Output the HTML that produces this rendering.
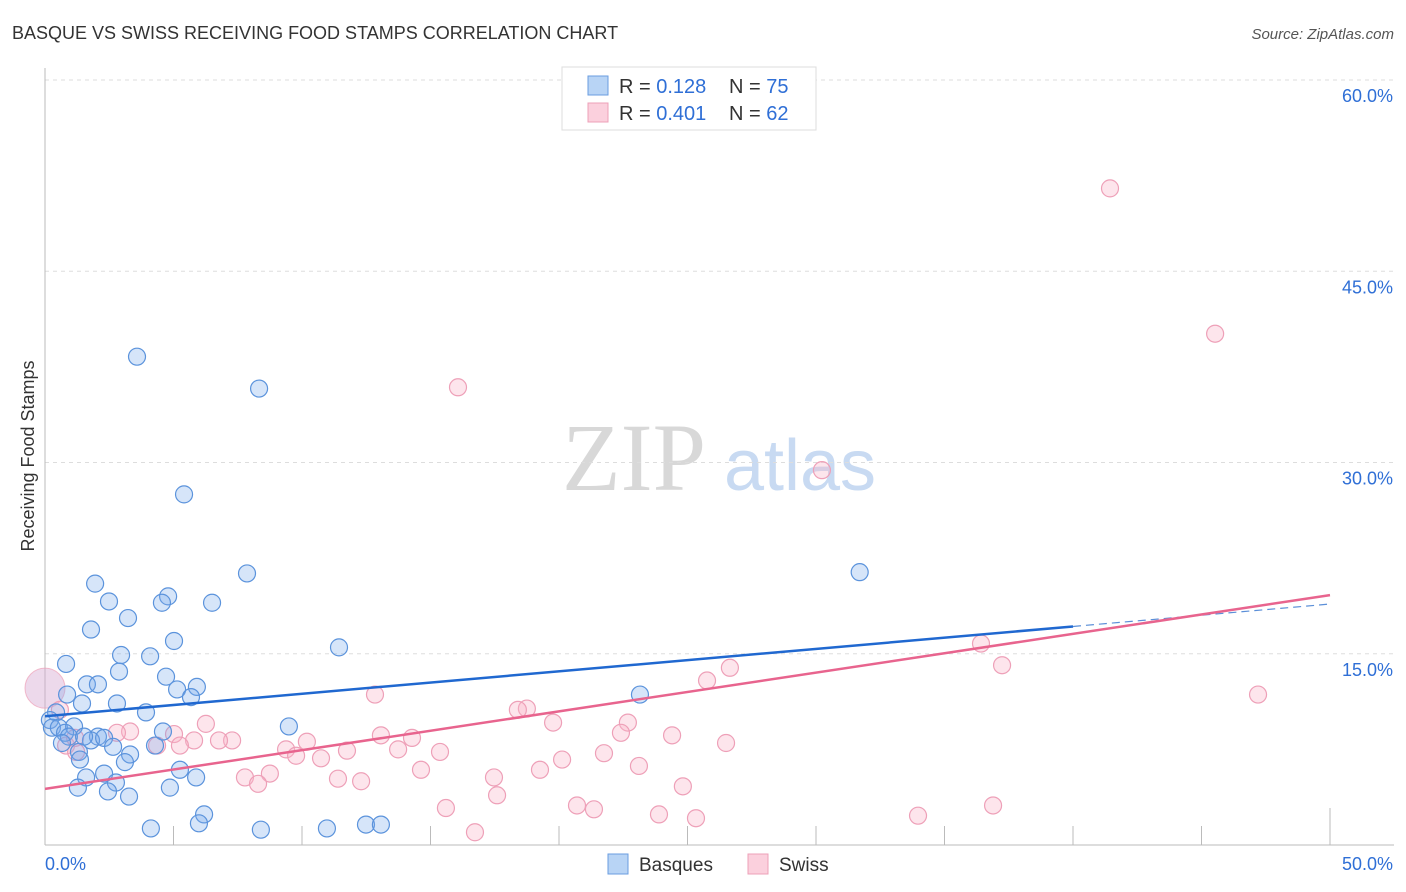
<!DOCTYPE html>
<html><head><meta charset="utf-8">
<style>
body{margin:0;background:#fff;font-family:"Liberation Sans",sans-serif;}
#wrap{position:relative;width:1406px;height:892px;overflow:hidden;}
svg text{font-family:"Liberation Sans",sans-serif;}
</style></head>
<body>
<div id="wrap">
<svg id="chart" width="1406" height="892">
  <text x="12" y="39" font-size="18" fill="#333">BASQUE VS SWISS RECEIVING FOOD STAMPS CORRELATION CHART</text>
  <text x="1394" y="39" font-size="15" fill="#555" font-style="italic" text-anchor="end">Source: ZipAtlas.com</text>
  <text x="34" y="456" font-size="18" fill="#333" text-anchor="middle" transform="rotate(-90 34 456)">Receiving Food Stamps</text>
  <g>
    <text x="634" y="490" font-size="96" fill="#d8d8d8" text-anchor="middle" font-family="Liberation Serif" style="font-family:'Liberation Serif',serif">ZIP</text>
    <text x="800" y="490" font-size="72" fill="#c8daf2" text-anchor="middle">atlas</text>
  </g>
  <g id="grid"></g>
  <g id="axes"></g>
  <g id="pinkPts"></g>
  <g id="bluePts"></g>
  <g id="lines"></g>
  <g>
    <rect x="562" y="67" width="254" height="63" fill="#fff" stroke="#ddd"/>
    <rect x="588" y="76" width="20" height="19" fill="#b8d4f5" stroke="#6a9de0"/>
    <rect x="588" y="103" width="20" height="19" fill="#fbd0dd" stroke="#eea0b8"/>
    <text x="619" y="93" font-size="20" fill="#333">R = <tspan fill="#2f6fd6">0.128</tspan></text>
    <text x="729" y="93" font-size="20" fill="#333">N = <tspan fill="#2f6fd6">75</tspan></text>
    <text x="619" y="120" font-size="20" fill="#333">R = <tspan fill="#2f6fd6">0.401</tspan></text>
    <text x="729" y="120" font-size="20" fill="#333">N = <tspan fill="#2f6fd6">62</tspan></text>
  </g>
  <g>
    <rect x="608" y="854" width="20" height="20" fill="#b8d4f5" stroke="#6a9de0"/>
    <text x="639" y="871" font-size="19" fill="#333">Basques</text>
    <rect x="748" y="854" width="20" height="20" fill="#fbd0dd" stroke="#eea0b8"/>
    <text x="779" y="871" font-size="19" fill="#333">Swiss</text>
  </g>
</svg>
</div>
<script>
const yTicks=[15,30,45,60];
const yTickLabels=["15.0%","30.0%","45.0%","60.0%"];
const xTickLabels=["0.0%","50.0%"];
const blueX=[3.58,8.33,5.41,7.86,31.7,1.95,2.49,4.79,4.55,6.5,3.23,1.79,5.02,2.96,4.09,0.82,11.44,2.88,4.71,1.63,2.06,5.14,5.91,5.68,0.86,1.44,2.8,3.93,0.43,23.15,0.19,0.27,0.54,1.13,9.49,0.78,0.93,2.06,1.79,2.3,1.52,4.59,4.28,2.65,0.66,1.32,3.31,3.11,1.36,5.25,2.3,1.6,5.88,2.76,1.28,2.45,4.86,3.27,4.12,6.19,5.99,8.4,10.97,12.49,13.07];
const blueY=[38.3,35.8,27.5,21.3,21.4,20.5,19.1,19.5,19.0,19.0,17.8,16.9,16.0,14.9,14.8,14.2,15.5,13.6,13.2,12.6,12.6,12.2,12.4,11.6,11.8,11.1,11.1,10.4,10.4,11.8,9.8,9.2,9.2,9.3,9.3,8.8,8.5,8.5,8.2,8.4,8.5,8.9,7.8,7.7,8.0,7.3,7.1,6.5,6.7,5.9,5.6,5.3,5.3,4.9,4.5,4.2,4.5,3.8,1.3,2.4,1.7,1.2,1.3,1.6,1.6];
const pinkX=[41.44,45.53,16.07,30.23,36.42,37.24,26.65,25.76,47.2,12.84,18.75,18.4,6.26,19.77,22.68,22.41,24.4,13.07,3.31,2.8,14.28,26.5,5.02,7.28,6.77,5.8,4.36,5.25,9.38,10.19,11.75,13.74,15.37,21.75,20.12,9.77,10.74,0.82,1.21,8.75,14.63,7.78,11.4,12.3,17.47,19.26,23.11,8.29,17.59,24.82,15.6,20.7,21.36,23.89,25.33,33.97,36.89,16.73,0.58,1.17];
const pinkY=[51.5,40.1,35.9,29.4,15.8,14.1,13.9,12.9,11.8,11.8,10.7,10.6,9.5,9.6,9.6,8.8,8.6,8.6,8.9,8.8,8.4,8.0,8.7,8.2,8.2,8.2,7.8,7.8,7.5,8.1,7.4,7.5,7.3,7.2,6.7,7.0,6.8,7.8,7.3,5.6,5.9,5.3,5.2,5.0,5.3,5.9,6.2,4.8,3.9,4.6,2.9,3.1,2.8,2.4,2.1,2.3,3.1,1.0,10.6,8.4];
const bigPink={x:0,y:12.3};
const blueTrend=[10.1,18.9];
const pinkTrend=[4.4,19.6];
const blueSolidEnd=40;

const NS="http://www.w3.org/2000/svg";
const X=v=>45+v*25.7;
const Y=v=>845-v*12.75;
function mk(tag,attrs,parent){const e=document.createElementNS(NS,tag);for(const k in attrs)e.setAttribute(k,attrs[k]);parent.appendChild(e);return e;}
const grid=document.getElementById('grid'),axes=document.getElementById('axes');
yTicks.forEach((t,i)=>{
  const l=mk('line',{x1:45,x2:1394,y1:Y(t),y2:Y(t),stroke:'#ddd','stroke-dasharray':'4,4'},grid);
  
  
  const tx=mk('text',{x:1393,y:Y(t)+22,'font-size':18,fill:'#2f6fd6','text-anchor':'end'},axes);
  tx.textContent=yTickLabels[i];
  
  
});
let a=mk('line',{x1:45,x2:45,y1:68,y2:845,stroke:'#bbb'},axes);


a=mk('line',{x1:45,x2:1394,y1:845,y2:845,stroke:'#bbb'},axes);


for(let k=1;k<=10;k++){
  const t=mk('line',{x1:X(k*5),x2:X(k*5),y1:k==10?808:826,y2:845,stroke:'#bbb'},axes);
  
  
}
[[0,'start',45],[50,'end',1393]].forEach((d,i)=>{
  const t=mk('text',{x:d[2],y:870,'font-size':18,fill:'#2f6fd6','text-anchor':d[1]},axes);
  t.textContent=xTickLabels[i];
  
  
});
const pp=document.getElementById('pinkPts'),bp=document.getElementById('bluePts');
let bc=mk('circle',{cx:X(bigPink.x),cy:Y(bigPink.y),r:20,fill:'rgba(215,170,210,0.45)',stroke:'rgba(238,160,184,0.7)'},pp);


pinkX.forEach((x,i)=>{
  const c=mk('circle',{cx:X(x),cy:Y(pinkY[i]),r:8.5,fill:'rgba(248,180,200,0.35)',stroke:'#eea0b8','stroke-width':1.2},pp);
  
  
});
blueX.forEach((x,i)=>{
  const c=mk('circle',{cx:X(x),cy:Y(blueY[i]),r:8.5,fill:'rgba(120,170,235,0.3)',stroke:'#5b93dc','stroke-width':1.2},bp);
  
  
});
const ln=document.getElementById('lines');
const by=x=>blueTrend[0]+(blueTrend[1]-blueTrend[0])*x/50;
let l=mk('line',{x1:X(0),y1:Y(blueTrend[0]),x2:X(blueSolidEnd),y2:Y(by(blueSolidEnd)),stroke:'#2068d0','stroke-width':2.5},ln);


l=mk('line',{x1:X(blueSolidEnd),y1:Y(by(blueSolidEnd)),x2:X(50),y2:Y(blueTrend[1]),stroke:'#5b8fd8','stroke-width':1.2,'stroke-dasharray':'8,5'},ln);


l=mk('line',{x1:X(0),y1:Y(pinkTrend[0]),x2:X(50),y2:Y(pinkTrend[1]),stroke:'#e8648e','stroke-width':2.5},ln);


</script>
</body></html>
